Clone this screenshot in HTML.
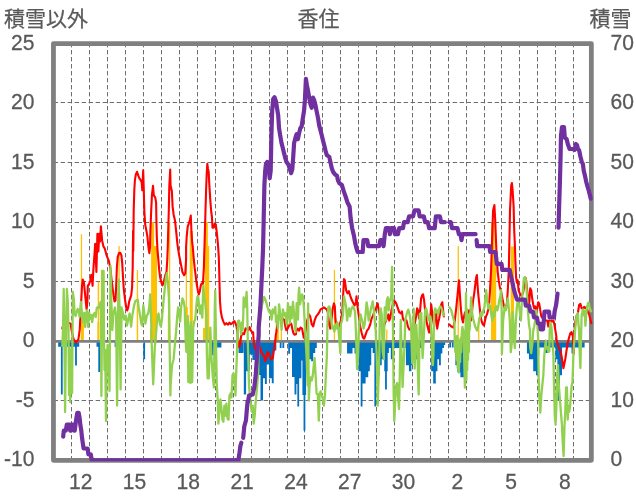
<!DOCTYPE html>
<html lang="ja"><head><meta charset="utf-8"><title>香住</title>
<style>
html,body{margin:0;padding:0;background:#fff;}
body{width:636px;height:501px;overflow:hidden;}
svg{display:block;}
text{font-family:"Liberation Sans","Noto Sans CJK JP",sans-serif;fill:#595959;}
.n{font-size:22.4px;stroke:#595959;stroke-width:0.3px;}
.j{font-size:21px;stroke:#595959;stroke-width:0.25px;}
</style></head><body>
<svg width="636" height="501" viewBox="0 0 636 501">
<defs><clipPath id="pc"><rect x="50" y="40" width="545" height="421.2"/></clipPath></defs>
<rect width="636" height="501" fill="#fff"/>

<path d="M71.50,43.0V460.35M89.50,43.0V460.35M107.50,43.0V460.35M125.50,43.0V460.35M143.50,43.0V460.35M161.50,43.0V460.35M179.50,43.0V460.35M197.50,43.0V460.35M215.50,43.0V460.35M233.50,43.0V460.35M251.50,43.0V460.35M269.50,43.0V460.35M287.50,43.0V460.35M304.50,43.0V460.35M322.50,43.0V460.35M340.50,43.0V460.35M358.50,43.0V460.35M376.50,43.0V460.35M394.50,43.0V460.35M412.50,43.0V460.35M430.50,43.0V460.35M448.50,43.0V460.35M466.50,43.0V460.35M484.50,43.0V460.35M501.50,43.0V460.35M519.50,43.0V460.35M537.50,43.0V460.35M555.50,43.0V460.35M573.50,43.0V460.35M53.650000000000006,102.50H591.35M53.650000000000006,162.50H591.35M53.650000000000006,222.50H591.35M53.650000000000006,281.50H591.35M53.650000000000006,400.50H591.35" stroke="#666" stroke-width="0.95" stroke-dasharray="4.4 2.6" fill="none"/>
<path d="M100.83,341.3V270.0H102.08V341.3ZM80.83,341.3V234.3H82.08V341.3ZM80.80,341.3V322.0H83.90V341.3ZM97.70,341.3V281.8H99.20V341.3ZM97.30,341.3V322.0H99.40V341.3ZM118.47,341.3V246.0H119.72V341.3ZM119.10,341.3V307.0H121.00V341.3ZM136.82,341.3V270.0H138.07V341.3ZM136.70,341.3V293.0H138.20V341.3ZM149.93,341.3V329.0H151.18V341.3ZM151.10,341.3V222.2H154.10V341.3ZM154.10,341.3V246.0H157.00V341.3ZM167.82,341.3V315.0H169.07V341.3ZM168.97,341.3V222.0H170.22V341.3ZM185.73,341.3V246.0H186.98V341.3ZM186.50,341.3V307.0H187.80V341.3ZM189.70,341.3V231.0H192.80V341.3ZM203.00,341.3V328.0H204.80V341.3ZM204.80,341.3V222.0H207.90V341.3ZM207.90,341.3V246.0H209.20V341.3ZM275.80,341.3V323.0H278.80V341.3ZM280.73,341.3V329.0H281.98V341.3ZM333.82,341.3V270.0H335.07V341.3ZM386.17,341.3V329.6H387.42V341.3ZM457.62,341.3V246.0H458.88V341.3ZM478.12,341.3V317.0H479.38V341.3ZM491.00,341.3V222.2H494.60V341.3ZM494.60,341.3V250.0H496.20V341.3ZM510.70,341.3V246.4H514.00V341.3Z" fill="#ffc000"/>
<path d="M58.20,341.3V346.8H79.20V341.3ZM60.90,341.3V394.5H62.70V341.3ZM75.10,341.3V365.5H76.90V341.3ZM96.50,341.3V346.8H100.00V341.3ZM98.30,341.3V372.0H100.10V341.3ZM114.65,341.3V347.0H116.45V341.3ZM143.30,341.3V359.3H145.10V341.3ZM212.34,341.3V347.5H221.41V341.3ZM212.04,341.3V355.2H213.84V341.3ZM305.32,341.3V369.3H308.15V341.3ZM308.15,341.3V359.2H311.17V341.3ZM311.17,341.3V361.2H313.19V341.3ZM313.19,341.3V353.1H315.20V341.3ZM315.00,341.3V348.1H316.80V341.3ZM347.06,341.3V353.6H352.50V341.3ZM352.50,341.3V348.1H354.52V341.3ZM354.52,341.3V353.6H358.55V341.3ZM358.55,341.3V371.3H360.97V341.3ZM360.68,341.3V406.6H362.48V341.3ZM362.18,341.3V383.4H365.60V341.3ZM365.60,341.3V377.3H368.23V341.3ZM368.04,341.3V371.3H369.83V341.3ZM369.45,341.3V365.2H371.25V341.3ZM370.96,341.3V348.1H372.75V341.3ZM372.66,341.3V353.1H374.68V341.3ZM374.38,341.3V406.6H376.18V341.3ZM375.89,341.3V375.3H379.72V341.3ZM379.72,341.3V365.2H381.73V341.3ZM381.73,341.3V359.2H384.76V341.3ZM384.26,341.3V371.3H386.06V341.3ZM385.07,341.3V389.4H386.87V341.3ZM385.88,341.3V371.3H387.67V341.3ZM387.09,341.3V353.1H388.88V341.3ZM388.79,341.3V348.1H390.81V341.3ZM390.81,341.3V359.2H393.83V341.3ZM393.83,341.3V348.1H405.93V341.3ZM405.93,341.3V365.2H408.95V341.3ZM408.95,341.3V371.3H410.97V341.3ZM410.97,341.3V359.2H412.98V341.3ZM412.98,341.3V348.1H418.23V341.3ZM409.61,341.3V371.3H411.40V341.3ZM410.82,341.3V365.2H412.62V341.3ZM412.42,341.3V359.2H418.06V341.3ZM418.06,341.3V348.1H422.10V341.3ZM431.17,341.3V371.3H433.19V341.3ZM433.19,341.3V383.4H435.81V341.3ZM435.62,341.3V371.3H437.41V341.3ZM437.22,341.3V359.2H439.23V341.3ZM439.04,341.3V365.2H440.84V341.3ZM440.56,341.3V353.6H442.35V341.3ZM442.17,341.3V348.1H443.96V341.3ZM443.38,341.3V345.1H445.17V341.3ZM449.22,341.3V347.5H451.02V341.3ZM451.85,341.3V347.5H453.64V341.3ZM455.36,341.3V365.2H457.38V341.3ZM457.38,341.3V372.3H460.40V341.3ZM460.40,341.3V377.3H464.03V341.3ZM464.03,341.3V365.2H466.45V341.3ZM466.45,341.3V348.1H468.47V341.3ZM526.94,341.3V353.6H528.95V341.3ZM528.95,341.3V359.2H530.97V341.3ZM530.97,341.3V359.2H533.99V341.3ZM533.99,341.3V371.3H536.01V341.3ZM536.01,341.3V375.3H538.23V341.3ZM527.15,341.3V347.5H529.17V341.3ZM529.17,341.3V359.2H531.19V341.3ZM531.19,341.3V353.6H533.20V341.3ZM533.20,341.3V371.3H535.22V341.3ZM535.22,341.3V365.2H537.23V341.3ZM537.23,341.3V355.2H539.25V341.3ZM539.25,341.3V347.5H545.30V341.3ZM545.30,341.3V353.1H548.32V341.3ZM548.32,341.3V347.5H555.38V341.3ZM555.38,341.3V359.2H557.40V341.3ZM557.40,341.3V400.5H560.02V341.3ZM560.02,341.3V375.3H562.03V341.3ZM562.03,341.3V347.5H571.51V341.3ZM571.51,341.3V353.6H574.53V341.3ZM574.53,341.3V347.5H584.61V341.3ZM238.50,341.3V353.1H243.50V341.3ZM243.80,341.3V394.6H246.10V341.3ZM246.10,341.3V371.3H249.80V341.3ZM249.80,341.3V354.4H252.40V341.3ZM252.40,341.3V360.0H258.00V341.3ZM258.00,341.3V375.0H260.50V341.3ZM260.50,341.3V400.5H263.00V341.3ZM263.00,341.3V378.3H264.90V341.3ZM264.90,341.3V383.9H266.80V341.3ZM266.80,341.3V364.4H269.00V341.3ZM269.00,341.3V378.3H271.80V341.3ZM271.80,341.3V383.3H273.70V341.3ZM273.70,341.3V350.6H276.30V341.3ZM279.75,341.3V348.1H281.55V341.3ZM282.40,341.3V348.1H284.20V341.3ZM288.20,341.3V353.7H290.10V341.3ZM290.10,341.3V348.1H292.00V341.3ZM292.00,341.3V377.0H294.50V341.3ZM294.50,341.3V394.6H296.40V341.3ZM296.10,341.3V383.9H297.90V341.3ZM297.35,341.3V406.6H299.15V341.3ZM298.90,341.3V378.3H301.40V341.3ZM301.15,341.3V360.6H302.95V341.3ZM302.40,341.3V395.0H304.20V341.3ZM303.55,341.3V430.8H305.35V341.3ZM304.30,341.3V395.0H306.10V341.3Z" fill="#0070c0"/>
<path d="M53.45,341.3H591.35" stroke="#808080" stroke-width="2.7" fill="none"/>
<rect x="53.45" y="43.6" width="537.9" height="416.75" fill="none" stroke="#808080" stroke-width="4.8" stroke-linejoin="round"/>
<path d="M62.3,328.4 L64.2,322.1 L65.3,319.7 L67.3,322.1 L70.5,323.6 L72.1,333.1 L73.7,339.4 L76.0,342.6 L78.4,339.4 L79.7,329.9 L80.4,317.3 L81.2,301.6 L82.0,285.8 L82.8,279.5 L83.9,282.6 L85.5,298.4 L86.6,309.4 L87.4,301.6 L87.8,285.8 L89.0,284.2 L90.2,281.0 L91.3,274.7 L92.6,285.8 L93.3,270.3 L94.6,252.7 L95.2,243.9 L96.4,272.0 L97.4,233.9 L98.4,251.5 L99.2,233.9 L100.0,241.4 L100.9,226.3 L102.1,240.2 L103.4,246.4 L104.7,248.3 L106.5,255.1 L108.9,261.1 L110.5,269.2 L111.5,279.3 L112.5,287.3 L113.5,295.4 L114.5,301.4 L115.5,300.4 L116.1,287.3 L116.9,267.2 L117.7,257.1 L119.0,253.1 L120.2,252.7 L121.4,255.1 L122.2,263.1 L123.0,277.2 L123.8,289.3 L125.0,299.4 L126.2,307.5 L127.2,310.5 L128.2,307.5 L129.2,301.4 L130.2,298.4 L131.2,295.4 L132.1,287.3 L132.7,267.2 L133.1,230.7 L133.3,251.0 L133.7,210.5 L134.3,190.3 L134.9,180.2 L135.9,174.2 L137.1,171.8 L138.1,175.2 L139.3,178.2 L140.7,180.2 L141.7,182.3 L142.3,190.3 L143.2,170.2 L143.8,190.3 L144.3,210.5 L145.2,224.6 L146.4,230.7 L147.4,236.7 L148.2,244.8 L148.8,249.8 L149.4,253.1 L150.0,246.8 L150.4,230.7 L151.2,210.5 L152.0,194.3 L153.0,185.9 L153.8,195.4 L155.2,197.4 L156.1,202.4 L156.4,220.6 L156.8,236.7 L157.5,249.8 L158.3,259.1 L159.1,269.2 L160.1,277.2 L161.3,282.3 L162.5,285.3 L163.9,281.3 L165.3,275.2 L166.5,272.2 L167.3,259.1 L167.7,249.0 L168.2,230.7 L168.8,210.5 L169.3,186.3 L170.2,169.6 L170.6,186.3 L170.8,186.3 L171.6,190.3 L171.8,190.3 L172.6,206.4 L173.6,214.5 L175.0,220.6 L176.1,230.7 L177.5,244.8 L179.1,255.1 L181.1,265.1 L182.5,272.2 L184.1,275.2 L185.3,273.2 L186.1,259.1 L186.1,246.8 L186.7,236.7 L187.7,226.6 L188.8,223.6 L189.8,220.6 L190.8,215.5 L191.4,230.7 L192.2,242.7 L192.8,247.0 L193.6,257.1 L194.6,267.2 L195.6,275.2 L196.6,283.3 L197.8,290.4 L198.8,294.4 L199.8,291.4 L200.8,285.3 L201.8,283.3 L202.9,284.3 L203.9,267.2 L204.3,251.0 L204.5,246.8 L204.9,230.7 L205.5,210.5 L206.1,190.3 L206.7,174.2 L207.3,163.7 L207.9,168.2 L208.7,172.2 L209.3,184.3 L210.3,200.4 L211.3,212.5 L211.9,216.5 L212.5,227.6 L213.8,227.6 L214.8,223.6 L215.8,224.6 L216.8,232.7 L217.8,242.7 L218.4,250.8 L218.8,257.1 L219.2,271.2 L219.6,287.3 L220.0,301.4 L220.8,311.5 L222.0,317.6 L223.4,321.6 L224.8,324.6 L226.4,323.2 L228.1,324.6 L229.5,322.6 L230.9,324.2 L232.5,323.2 L233.0,322.1 L234.1,321.6 L234.5,321.1 L235.5,323.6 L235.5,323.1 L236.5,326.2 L237.5,333.2 L238.5,343.3 L239.2,347.3 L240.1,344.3 L241.1,336.2 L242.6,333.2 L244.1,334.2 L245.6,328.2 L246.6,329.2 L248.1,330.2 L249.6,327.2 L250.6,330.2 L252.1,332.2 L253.1,332.2 L253.6,340.2 L254.6,347.3 L257.0,352.0 L259.7,347.1 L261.7,353.1 L263.8,355.2 L265.2,361.2 L266.8,355.2 L267.8,352.1 L269.2,354.2 L270.8,359.2 L272.8,358.2 L273.8,351.1 L274.8,345.1 L275.8,335.0 L276.3,332.2 L277.3,325.1 L278.3,318.1 L279.1,315.1 L280.3,317.1 L281.8,318.1 L283.3,319.1 L284.3,320.1 L285.3,326.2 L286.3,330.2 L287.3,329.2 L288.3,327.2 L289.3,325.1 L290.4,323.1 L291.4,324.1 L292.4,329.2 L293.4,333.2 L294.4,334.7 L296.0,334.2 L296.1,331.6 L297.7,328.6 L299.1,330.6 L300.5,327.5 L302.1,328.6 L303.7,337.6 L305.1,334.6 L307.1,320.5 L309.1,314.4 L310.2,316.4 L311.8,324.5 L313.2,326.5 L314.6,320.5 L316.2,316.4 L317.8,314.4 L319.2,312.4 L320.6,309.4 L322.3,308.4 L323.9,307.4 L325.3,308.4 L326.7,309.4 L327.9,312.4 L329.1,324.5 L330.3,328.6 L331.3,320.5 L332.7,308.4 L333.9,303.4 L334.8,306.4 L335.4,318.5 L336.4,326.5 L338.4,327.5 L340.4,322.5 L341.4,318.5 L342.4,310.4 L343.4,290.2 L344.0,279.1 L344.8,280.2 L346.1,290.2 L347.5,293.3 L348.9,291.2 L350.1,295.3 L351.5,299.3 L352.9,302.3 L354.5,305.4 L355.7,303.4 L356.5,296.3 L357.5,306.4 L358.6,314.4 L359.6,322.5 L360.6,328.6 L361.6,332.6 L363.0,337.6 L364.2,338.6 L365.6,334.6 L367.0,330.6 L368.6,328.6 L370.2,324.5 L371.6,318.5 L373.1,315.4 L374.7,310.4 L376.3,307.4 L377.7,303.4 L378.7,310.4 L379.7,314.4 L380.7,320.5 L382.3,324.5 L383.8,326.5 L385.2,322.5 L386.8,318.5 L388.4,314.4 L389.2,320.5 L390.2,318.5 L391.8,308.4 L393.8,300.3 L394.8,301.3 L396.2,303.4 L397.9,308.4 L399.3,312.4 L400.9,313.4 L401.9,311.4 L402.9,318.5 L403.9,320.5 L404.9,319.5 L406.5,320.5 L407.9,326.5 L409.4,329.6 L411.0,328.6 L412.0,330.6 L413.6,328.6 L415.0,322.5 L416.1,316.4 L417.1,308.4 L418.1,310.4 L419.1,318.5 L420.1,310.4 L421.1,298.3 L422.1,295.3 L423.1,294.3 L424.1,300.3 L425.1,310.4 L426.1,318.5 L427.1,324.5 L428.1,328.6 L429.1,332.6 L430.2,320.5 L431.2,304.4 L432.2,312.4 L433.2,320.5 L434.2,326.5 L435.2,310.4 L436.2,314.4 L437.2,328.6 L438.2,322.5 L439.2,318.5 L440.2,312.4 L441.2,304.4 L442.3,302.3 L443.3,312.4 L443.9,316.4" stroke="#ff0000" stroke-width="2.1" fill="none" stroke-linejoin="round" stroke-linecap="round"/>
<path d="M449.3,324.5 L451.3,326.5 L453.4,327.5 L454.8,320.5 L456.0,310.4 L457.0,300.3 L458.0,290.2 L459.0,280.2 L460.0,296.3 L461.0,310.4 L462.0,318.5 L463.0,322.5 L464.0,316.4 L465.0,312.4 L466.1,318.5 L467.1,322.5 L468.1,320.5 L469.1,310.4 L469.9,314.4 L471.1,320.5 L472.1,310.4 L473.1,300.3 L474.1,294.3 L475.1,286.2 L476.1,278.1 L476.9,275.1 L477.9,290.2 L478.9,300.3 L480.0,310.4 L481.0,318.5 L482.0,322.5 L483.0,324.5 L484.0,325.5 L485.0,320.5 L486.0,316.4 L487.0,314.4 L488.0,310.4 L489.0,306.4 L490.0,290.2 L491.1,270.1 L491.7,250.5 L493.1,210.2 L494.4,205.1 L495.2,220.2 L496.4,250.5 L497.7,272.1 L498.7,280.2 L499.7,286.2 L500.7,290.2 L501.7,294.3 L502.7,300.3 L503.8,305.4 L504.8,308.4 L505.8,306.4 L506.8,304.4 L507.8,290.2 L508.8,270.1 L510.0,210.6 L511.2,185.5 L511.9,183.0 L512.6,190.0 L513.6,206.0 L514.3,233.0 L514.8,242.6 L515.4,261.4 L516.1,277.8 L517.0,282.8 L517.7,280.3 L518.6,290.4 L520.0,294.0 L521.5,296.0 L523.0,293.0 L524.3,286.0 L525.5,277.8 L526.1,280.2 L527.1,290.2 L528.2,300.3 L529.2,303.4 L530.2,288.2 L531.2,290.2 L532.2,298.3 L533.2,304.4 L534.2,308.4 L535.2,306.4 L536.2,310.4 L537.2,308.4 L538.2,302.3 L539.2,303.4 L540.3,310.4 L541.3,316.4 L544.3,320.5 L547.3,320.5 L548.3,326.5 L549.3,320.5 L550.3,322.5 L551.4,320.5 L552.4,321.5 L553.4,320.5 L554.4,324.5 L555.4,330.6 L556.4,336.6 L556.4,339.0 L557.4,343.1 L558.4,347.1 L559.4,349.1 L560.4,351.1 L561.4,355.2 L562.4,361.2 L563.4,368.3 L564.3,364.0 L565.3,359.0 L566.3,352.0 L567.2,346.0 L568.2,341.0 L569.2,337.0 L570.3,333.3 L571.6,332.1 L572.8,335.9 L573.6,354.0 L574.4,333.0 L575.3,322.0 L576.6,315.7 L577.9,313.2 L579.1,305.0 L580.4,303.8 L581.6,308.2 L582.9,308.8 L584.2,306.9 L585.4,308.2 L586.7,306.9 L587.9,312.0 L589.2,314.5 L590.4,319.5 L591.3,323.3" stroke="#ff0000" stroke-width="2.1" fill="none" stroke-linejoin="round" stroke-linecap="round"/>
<path d="M62.3,346.0 L63.0,330.0 L63.7,289.0 L64.4,340.0 L65.1,412.0 L65.9,340.0 L66.9,289.0 L67.8,302.0 L68.5,330.0 L69.0,395.0 L69.5,348.0 L70.2,402.0 L70.9,350.0 L71.5,380.0 L72.1,393.0 L72.8,292.0 L73.9,300.0 L74.6,314.0 L75.6,316.0 L76.6,312.0 L77.6,309.0 L78.6,310.0 L79.6,317.0 L80.9,302.0 L81.7,310.0 L82.4,322.0 L83.2,320.0 L84.2,313.0 L85.2,327.0 L86.2,313.0 L87.2,310.0 L88.2,327.0 L89.2,313.0 L90.2,319.0 L91.2,315.0 L92.2,322.0 L93.2,315.0 L94.7,313.0 L95.7,317.0 L96.8,308.0 L97.8,307.0 L98.8,308.0 L99.8,304.0 L100.8,302.0 L101.4,396.0 L101.9,330.0 L102.3,271.0 L103.6,271.0 L103.9,330.0 L104.5,370.0 L105.2,350.0 L106.0,421.0 L106.8,360.0 L107.6,345.0 L108.5,350.0 L109.5,391.0 L110.5,266.0 L111.3,300.0 L112.3,330.0 L113.5,313.5 L114.9,307.5 L116.1,315.6 L117.1,405.6 L118.5,279.3 L119.6,307.5 L120.6,389.4 L121.6,307.5 L123.0,313.5 L124.2,319.6 L125.6,315.6 L127.0,325.6 L128.2,319.6 L129.6,313.5 L131.1,326.6 L132.3,315.6 L133.7,307.5 L135.1,301.4 L136.3,300.4 L137.7,299.8 L138.7,307.5 L140.1,315.6 L141.3,323.6 L142.3,325.6 L143.3,305.5 L144.3,313.5 L145.4,323.6 L146.8,315.6 L148.2,313.5 L149.2,307.5 L150.2,294.4 L150.8,307.5 L151.8,347.1 L153.2,384.4 L154.8,347.1 L156.2,331.7 L157.3,317.6 L158.5,313.5 L159.9,323.6 L160.9,326.6 L161.9,319.6 L162.9,307.5 L163.9,297.4 L164.9,287.3 L165.9,277.2 L166.9,273.2 L167.9,283.3 L168.9,297.4 L169.8,355.2 L170.4,395.5 L170.6,385.4 L172.0,365.2 L173.6,359.2 L175.0,343.1 L176.1,331.7 L177.1,317.6 L178.1,307.5 L179.1,313.5 L180.1,321.6 L181.1,307.5 L182.5,298.4 L183.7,301.4 L184.7,307.5 L185.7,341.0 L186.4,352.0 L187.2,328.0 L187.8,316.0 L188.3,382.0 L188.9,335.0 L189.6,382.5 L190.2,327.0 L190.8,322.0 L191.3,382.5 L191.8,345.0 L192.2,382.0 L192.8,350.0 L193.2,327.6 L194.2,321.6 L195.2,319.6 L196.2,307.5 L197.2,297.4 L198.2,296.4 L199.2,307.5 L200.2,313.5 L201.2,305.5 L202.3,317.6 L203.3,285.3 L204.3,297.4 L205.3,303.4 L206.3,313.5 L206.9,355.2 L207.7,378.4 L208.7,378.4 L209.5,355.2 L210.3,327.6 L211.3,355.2 L212.7,375.3 L213.9,387.4 L214.3,355.2 L214.8,307.5 L215.2,290.4 L215.8,327.6 L216.2,355.2 L216.8,385.4 L217.8,401.5 L218.4,423.7 L219.4,411.6 L220.4,399.5 L221.4,407.6 L222.4,419.7 L223.4,421.7 L224.4,405.6 L225.4,415.6 L226.4,403.6 L227.5,418.7 L228.5,419.7 L229.5,395.5 L230.5,393.5 L231.5,397.5 L232.5,375.3 L233.5,373.3 L234.5,378.4 L235.5,395.5 L236.1,375.3 L236.9,355.2 L237.5,330.2 L237.7,341.1 L238.0,321.1 L239.0,320.6 L240.1,325.1 L241.1,334.2 L242.1,322.1 L242.6,330.2 L243.3,315.1 L243.6,297.4 L244.6,307.5 L245.6,303.4 L246.6,291.8 L247.2,307.5 L247.8,341.8 L248.2,355.2 L249.0,385.4 L250.7,403.6 L251.7,411.6 L252.7,405.6 L253.7,423.7 L254.7,415.6 L255.7,401.5 L257.1,387.4 L258.3,371.3 L258.5,335.0 L258.6,323.0 L260.0,320.0 L262.0,305.0 L264.0,296.9 L265.3,299.4 L266.5,303.2 L267.8,308.2 L269.1,312.0 L270.3,310.7 L271.6,319.5 L272.8,309.4 L274.1,313.2 L275.3,306.9 L276.0,322.0 L276.6,315.7 L277.9,328.3 L279.1,304.4 L280.4,315.7 L281.6,329.6 L282.9,309.4 L284.2,315.7 L285.4,313.2 L286.7,324.5 L287.9,303.2 L289.2,315.7 L289.8,323.3 L290.4,306.9 L291.7,318.3 L292.3,309.4 L293.0,301.9 L294.2,315.7 L295.5,332.1 L296.7,303.2 L298.0,319.5 L298.6,294.4 L299.1,287.6 L300.1,304.4 L301.1,298.3 L302.1,294.3 L303.1,297.3 L304.1,310.4 L305.1,330.6 L306.1,347.1 L306.5,355.2 L307.7,385.4 L308.1,303.4 L308.8,400.5 L309.6,385.4 L310.6,377.3 L311.8,380.4 L312.8,375.3 L313.8,365.2 L314.6,358.2 L315.6,375.3 L316.6,393.5 L317.8,394.5 L318.8,420.7 L319.6,393.5 L320.6,391.4 L321.9,395.5 L322.9,399.5 L323.9,405.6 L324.9,395.5 L325.9,375.3 L326.9,355.2 L327.5,320.5 L328.3,307.4 L329.3,306.4 L330.3,310.4 L331.3,320.5 L332.3,328.6 L333.4,326.5 L334.4,331.6 L335.4,324.5 L336.4,328.6 L337.4,322.5 L338.4,328.6 L339.4,340.6 L340.4,353.1 L340.8,324.5 L342.0,320.5 L343.0,314.4 L344.0,296.3 L344.8,300.3 L346.1,306.4 L347.1,320.5 L348.1,312.4 L349.1,308.4 L350.1,316.4 L351.1,310.4 L352.1,307.4 L353.1,306.4 L354.1,308.4 L355.1,312.4 L355.9,330.6 L357.1,369.3 L358.1,355.2 L358.9,330.6 L359.6,320.5 L360.6,314.4 L361.6,318.5 L362.6,322.5 L363.6,328.6 L364.6,324.5 L365.6,314.4 L366.6,302.3 L367.6,308.4 L368.6,320.5 L369.6,316.4 L370.6,310.4 L371.6,306.4 L372.7,301.3 L373.7,308.4 L374.7,320.5 L375.7,330.6 L376.7,355.2 L377.1,375.3 L377.7,405.6 L378.7,375.3 L379.3,355.2 L379.9,310.4 L380.7,308.4 L381.7,314.4 L382.3,336.6 L382.7,351.1 L383.8,359.2 L384.4,320.5 L384.8,307.4 L385.8,320.5 L386.8,300.3 L387.8,297.3 L388.8,310.4 L389.8,299.3 L390.5,300.0 L391.2,296.0 L392.1,267.0 L393.0,330.0 L393.7,395.0 L394.3,421.0 L395.3,400.0 L396.2,385.0 L397.2,383.0 L398.0,396.0 L399.0,409.0 L399.7,380.0 L400.3,345.0 L400.7,320.0 L401.3,345.0 L402.6,387.0 L403.6,365.0 L404.6,345.0 L405.2,320.0 L406.2,316.0 L407.2,312.0 L408.2,309.6 L409.2,313.0 L410.2,318.0 L411.2,330.0 L412.2,363.0 L413.0,330.0 L413.7,308.6 L414.2,330.0 L414.7,368.7 L415.4,340.0 L416.4,325.0 L417.2,345.0 L418.0,375.0 L418.7,394.5 L419.3,350.0 L419.8,314.0 L421.3,313.0 L422.0,340.0 L422.6,358.0 L423.6,340.0 L425.1,310.4 L426.1,308.4 L427.1,312.4 L428.1,318.5 L429.1,320.5 L430.2,316.4 L431.2,330.6 L432.2,355.2 L432.8,365.2 L433.4,355.2 L433.8,330.6 L434.2,314.4 L435.2,308.4 L436.2,312.4 L437.2,310.4 L438.2,314.4 L439.2,308.4 L440.2,306.4 L441.2,307.4 L442.3,310.4 L443.3,314.4 L443.9,315.4" stroke="#92d050" stroke-width="2.3" fill="none" stroke-linejoin="round" stroke-linecap="round"/>
<path d="M449.3,307.4 L450.3,308.4 L451.3,310.4 L452.3,314.4 L453.4,318.5 L454.4,322.5 L454.8,341.0 L455.3,352.0 L455.9,338.0 L456.5,360.0 L457.1,336.0 L457.7,368.0 L458.3,340.0 L458.9,372.6 L459.5,345.0 L460.1,362.0 L460.7,338.0 L461.2,352.0 L461.7,335.0 L462.4,327.0 L463.2,330.0 L463.8,336.0 L464.2,360.0 L464.9,387.7 L465.5,345.0 L466.0,293.0 L466.4,380.0 L466.8,309.0 L467.2,370.0 L467.6,322.0 L468.0,360.0 L468.5,315.0 L468.9,352.0 L469.3,314.0 L469.6,330.0 L470.5,312.4 L471.1,297.3 L472.1,312.4 L473.1,318.5 L474.1,322.5 L475.1,326.5 L476.1,328.6 L477.1,330.6 L478.1,326.5 L479.1,320.5 L480.2,316.4 L481.2,312.4 L482.2,315.4 L483.2,310.4 L484.2,308.4 L485.2,300.3 L486.2,290.2 L487.2,300.3 L488.2,308.4 L489.2,304.4 L490.2,306.4 L491.2,314.4 L492.3,320.5 L493.3,312.4 L494.3,316.4 L495.3,308.4 L496.3,306.4 L497.3,310.4 L498.3,306.4 L499.3,300.3 L500.3,296.3 L501.1,290.2 L501.7,310.4 L501.9,354.1 L503.1,320.5 L504.8,306.4 L505.8,310.4 L506.8,304.4 L507.8,298.3 L508.8,308.4 L509.8,320.5 L510.8,352.1 L511.8,343.1 L512.8,312.4 L513.8,330.6 L514.8,348.1 L515.9,320.5 L516.9,306.4 L517.9,300.3 L518.9,304.4 L519.9,312.4 L520.9,320.5 L521.9,300.3 L522.9,290.2 L523.9,278.1 L524.9,277.1 L525.9,280.2 L526.9,294.3 L527.9,310.4 L529.0,324.5 L530.0,330.6 L530.2,347.1 L531.2,353.1 L532.2,345.1 L533.2,330.6 L534.2,326.5 L535.2,320.5 L536.2,310.4 L537.2,320.5 L538.2,340.6 L538.6,375.3 L539.2,395.5 L540.3,412.6 L541.3,395.5 L542.3,385.4 L543.3,375.3 L544.3,355.2 L545.3,345.1 L545.9,340.6 L546.3,348.7 L547.3,347.1 L548.3,352.1 L549.3,351.1 L549.7,330.6 L550.3,322.5 L551.4,326.5 L552.4,340.6 L553.4,355.2 L554.0,385.4 L554.8,415.6 L555.6,424.7 L556.4,405.6 L557.2,375.3 L558.0,365.2 L558.8,385.4 L559.6,395.5 L560.4,405.6 L561.2,415.6 L562.0,425.7 L562.8,443.9 L563.6,456.0 L564.5,425.7 L565.3,411.6 L566.1,387.4 L566.9,387.4 L567.7,419.7 L568.5,405.6 L569.3,411.6 L570.1,405.6 L570.9,395.5 L571.7,385.4 L572.5,381.4 L573.5,352.0 L574.5,338.0 L575.3,328.0 L576.6,315.7 L577.9,313.2 L578.5,325.0 L579.1,330.0 L579.7,352.0 L580.4,368.0 L581.0,340.0 L581.6,315.7 L582.9,309.4 L584.2,315.7 L584.8,310.7 L585.4,325.8 L586.7,309.4 L587.9,303.2 L588.6,302.5 L589.8,308.2 L591.1,311.3" stroke="#92d050" stroke-width="2.3" fill="none" stroke-linejoin="round" stroke-linecap="round"/>
<path d="M63.2,436.6 L63.8,430.6 L65.8,430.6 L66.8,424.7 L69.8,424.7 L70.2,430.6 L70.8,430.6 L71.5,424.7 L73.3,424.7 L74.1,430.6 L74.7,430.6 L75.5,424.7 L76.3,418.7 L77.3,412.8 L78.7,412.8 L79.7,418.7 L80.3,424.7 L81.3,430.6 L81.9,436.6 L82.7,442.5 L83.6,448.5 L87.6,448.5 L88.4,454.4 L90.8,454.4 L91.8,460.4 L238.3,460.4 L239.3,454.4 L240.3,446.4 L241.3,442.7" stroke="#7030a0" stroke-width="4.2" clip-path="url(#pc)" fill="none" stroke-linejoin="round" stroke-linecap="round"/>
<path d="M243.2,437.9 L244.3,426.2 L246.0,420.2 L246.8,410.1 L247.6,401.5 L248.0,402.0 L249.0,395.5 L252.7,394.5 L254.3,387.4 L255.7,375.3 L257.1,355.2 L258.7,335.0 L258.7,327.6 L260.3,307.5 L261.3,287.3 L262.3,267.2 L263.1,247.0 L264.4,185.0 L265.2,170.7 L265.9,164.4 L267.2,161.9 L268.4,165.7 L269.7,178.2 L270.7,170.7 L271.4,135.5 L272.2,110.3 L273.2,99.0 L274.5,97.2 L276.0,101.5 L277.2,109.1 L278.2,115.3 L279.0,127.9 L280.2,135.5 L281.5,143.0 L282.8,148.1 L284.0,153.1 L285.3,158.1 L286.5,161.9 L288.3,164.4 L289.6,168.2 L291.1,173.2 L292.3,169.4 L293.3,155.6 L294.1,143.0 L295.4,138.0 L296.6,134.2 L297.9,139.2 L299.1,133.0 L300.4,127.9 L301.6,126.7 L302.9,117.9 L304.1,110.3 L304.9,100.2 L305.9,78.9 L306.9,85.2 L307.9,90.2 L309.2,97.7 L310.4,104.0 L311.7,107.8 L313.0,97.7 L314.2,100.2 L315.5,105.3 L316.7,111.6 L318.0,117.9 L319.2,125.4 L320.5,130.4 L321.8,135.5 L323.0,140.5 L324.3,145.5 L325.5,150.6 L326.8,155.1 L329.3,156.9 L330.6,163.1 L331.8,168.2 L333.1,171.9 L335.1,174.5 L336.9,175.7 L338.1,180.8 L339.4,183.3 L341.9,185.0 L343.8,191.4 L345.6,196.5 L347.6,202.8 L349.6,206.5 L350.6,217.9 L352.1,227.9 L353.9,235.5 L355.2,243.0 L356.4,248.1 L357.7,252.0 L362.7,252.0 L363.5,240.1 L367.2,240.1 L368.2,246.1 L379.1,246.1 L380.3,240.1 L382.8,240.1 L383.6,246.1 L384.8,234.2 L385.9,228.2 L389.1,228.2 L389.9,234.2 L391.1,228.2 L394.1,228.2 L394.9,234.2 L397.9,234.2 L399.2,228.2 L400.0,228.2 L403.0,228.2 L404.0,222.2 L407.7,222.2 L409.1,216.3 L413.1,216.3 L414.5,210.3 L418.6,210.3 L419.6,216.3 L423.8,216.3 L425.2,222.2 L427.8,222.2 L429.2,228.2 L434.7,228.2 L435.9,216.3 L439.9,216.3 L441.1,222.2 L444.8,222.2" stroke="#7030a0" stroke-width="4.2" clip-path="url(#pc)" fill="none" stroke-linejoin="round" stroke-linecap="round"/>
<path d="M449.4,222.2 L450.8,222.2 L452.0,228.2 L457.5,228.2 L458.9,234.2 L460.5,234.2 L461.5,240.1 L462.5,234.2 L475.6,234.2" stroke="#7030a0" stroke-width="4.2" clip-path="url(#pc)" fill="none" stroke-linejoin="round" stroke-linecap="round"/>
<path d="M476.6,240.1 L477.2,246.1 L487.7,246.1 L489.5,246.1 L490.2,252.0 L495.5,252.0 L496.2,258.0 L496.8,263.9 L501.6,263.9 L502.3,269.9 L509.8,269.9 L511.0,275.8 L512.3,281.8 L513.5,287.7 L515.0,293.7 L517.0,299.6 L525.0,299.6 L525.8,305.6 L529.0,305.6 L530.5,311.6 L533.0,311.6 L534.0,317.5 L537.0,317.5 L538.0,323.5 L540.0,323.5 L540.6,329.4 L543.0,329.4 L543.6,323.5 L544.0,317.5 L544.5,311.6 L549.0,311.6 L549.6,317.5 L554.0,317.5 L554.6,311.6 L556.0,305.6 L556.8,299.6 L557.5,293.7" stroke="#7030a0" stroke-width="4.2" clip-path="url(#pc)" fill="none" stroke-linejoin="round" stroke-linecap="round"/>
<path d="M558.5,227.7 L559.0,210.6 L559.8,185.5 L560.5,160.3 L561.0,135.2 L562.0,127.1 L564.0,127.1 L564.8,137.7 L566.6,138.9 L567.8,144.0 L569.6,149.0 L572.9,149.0 L574.6,149.8 L575.9,144.0 L577.1,145.2 L577.9,149.0 L579.1,150.2 L580.4,156.5 L581.7,161.6 L582.9,164.1 L583.7,170.4 L584.9,175.4 L586.2,181.7 L587.2,185.5 L588.7,190.5 L590.0,195.5 L590.7,198.6" stroke="#7030a0" stroke-width="4.2" clip-path="url(#pc)" fill="none" stroke-linejoin="round" stroke-linecap="round"/>
<g style="opacity:0.999">
<text class="j" x="4" y="25.9">積雪以外</text>
<text class="j" x="318.5" y="25.9" text-anchor="middle">香住</text>
<text class="j" x="589.5" y="25.9">積雪</text>
<text class="n" transform="translate(34.4,49.5) scale(0.94,1)" text-anchor="end">25</text>
<text class="n" transform="translate(34.4,109.0) scale(0.94,1)" text-anchor="end">20</text>
<text class="n" transform="translate(34.4,168.6) scale(0.94,1)" text-anchor="end">15</text>
<text class="n" transform="translate(34.4,228.1) scale(0.94,1)" text-anchor="end">10</text>
<text class="n" transform="translate(34.4,287.6) scale(0.94,1)" text-anchor="end">5</text>
<text class="n" transform="translate(34.4,347.2) scale(0.94,1)" text-anchor="end">0</text>
<text class="n" transform="translate(34.4,406.7) scale(0.94,1)" text-anchor="end">-5</text>
<text class="n" transform="translate(34.4,466.2) scale(0.94,1)" text-anchor="end">-10</text>
<text class="n" transform="translate(610.6,49.5) scale(0.94,1)">70</text>
<text class="n" transform="translate(610.6,109.0) scale(0.94,1)">60</text>
<text class="n" transform="translate(610.6,168.6) scale(0.94,1)">50</text>
<text class="n" transform="translate(610.6,228.1) scale(0.94,1)">40</text>
<text class="n" transform="translate(610.6,287.6) scale(0.94,1)">30</text>
<text class="n" transform="translate(610.6,347.2) scale(0.94,1)">20</text>
<text class="n" transform="translate(610.6,406.7) scale(0.94,1)">10</text>
<text class="n" transform="translate(610.6,466.2) scale(0.94,1)">0</text>
<text class="n" transform="translate(80.7,488.8) scale(0.94,1)" text-anchor="middle">12</text>
<text class="n" transform="translate(134.5,488.8) scale(0.94,1)" text-anchor="middle">15</text>
<text class="n" transform="translate(188.3,488.8) scale(0.94,1)" text-anchor="middle">18</text>
<text class="n" transform="translate(242.1,488.8) scale(0.94,1)" text-anchor="middle">21</text>
<text class="n" transform="translate(295.9,488.8) scale(0.94,1)" text-anchor="middle">24</text>
<text class="n" transform="translate(349.7,488.8) scale(0.94,1)" text-anchor="middle">27</text>
<text class="n" transform="translate(403.5,488.8) scale(0.94,1)" text-anchor="middle">30</text>
<text class="n" transform="translate(457.3,488.8) scale(0.94,1)" text-anchor="middle">2</text>
<text class="n" transform="translate(511.1,488.8) scale(0.94,1)" text-anchor="middle">5</text>
<text class="n" transform="translate(564.9,488.8) scale(0.94,1)" text-anchor="middle">8</text>
</g>
</svg></body></html>
